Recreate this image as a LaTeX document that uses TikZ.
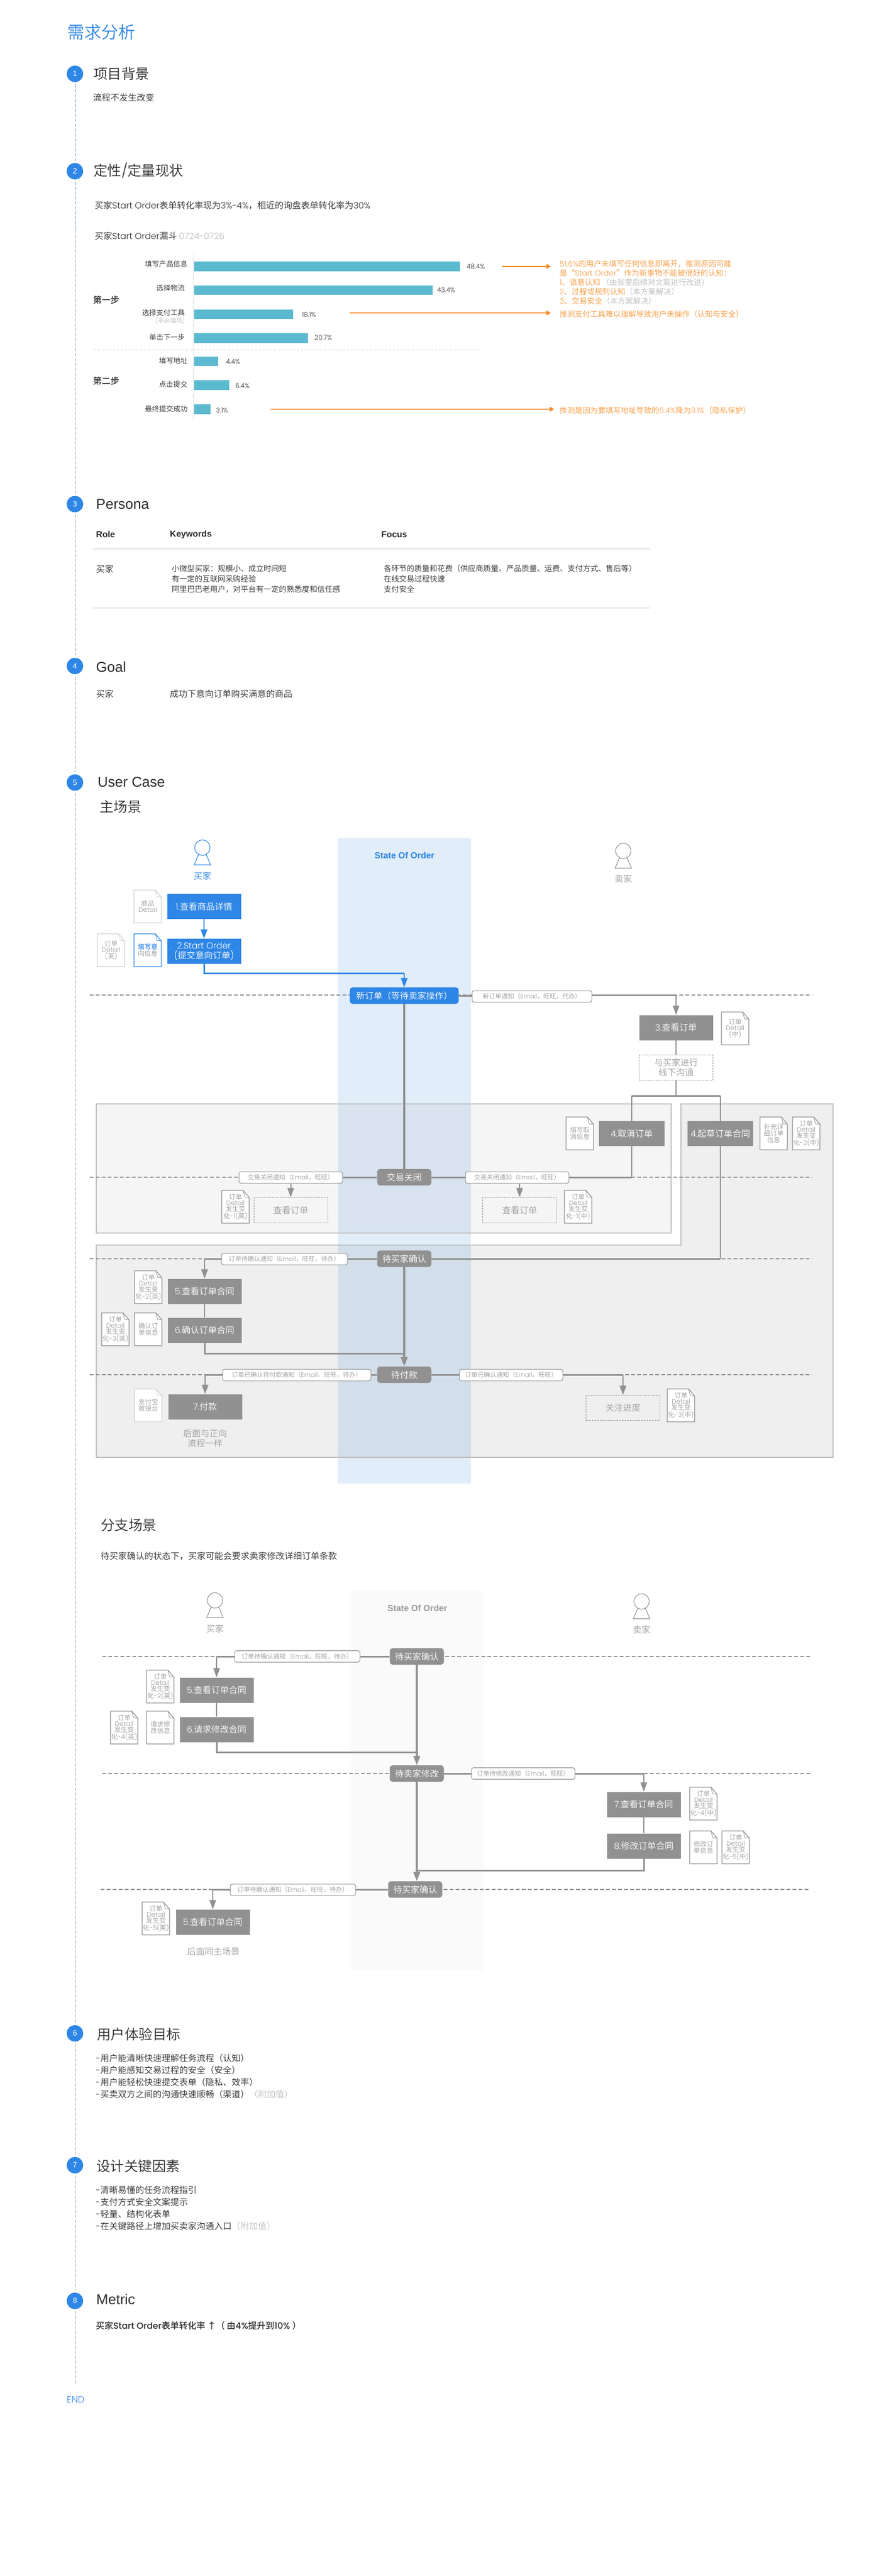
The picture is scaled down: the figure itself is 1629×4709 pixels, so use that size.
\documentclass[tikz,border=0pt]{standalone}
\usepackage{fontspec}
\usetikzlibrary{arrows.meta,shapes.geometric}
\setmainfont{Poppins}[UprightFont=* Light,BoldFont=* Medium]
\newfontfamily\cjkf{Noto Sans CJK SC}[UprightFont=* DemiLight,BoldFont=* Medium]
\newfontfamily\arialf{Liberation Sans}
\newcommand{\latf}{\normalfont}
\renewcommand{\latf}{\rmfamily}
\newcommand{\arl}{\let\latf\arialf\arialf}
\newXeTeXintercharclass\cjkcls
\newcount\ccc
\ccc="2E80 \loop \XeTeXcharclass\ccc=\cjkcls \advance\ccc 1 \ifnum\ccc<"A000 \repeat
\ccc="FF00 \loop \XeTeXcharclass\ccc=\cjkcls \advance\ccc 1 \ifnum\ccc<"FFF0 \repeat
\XeTeXcharclass"2018=\cjkcls \XeTeXcharclass"2019=\cjkcls
\XeTeXcharclass"201C=\cjkcls \XeTeXcharclass"201D=\cjkcls
\XeTeXcharclass"2191=\cjkcls
\XeTeXinterchartoks 0 \cjkcls={\cjkf}
\XeTeXinterchartoks \cjkcls 0={\latf}
\XeTeXinterchartoks 4095 \cjkcls={\cjkf}
\XeTeXinterchartoks 4095 0={\latf}
\XeTeXinterchartokenstate=1
\definecolor{blueA}{HTML}{2E86E6}
\definecolor{colA}{HTML}{E1EDF9}
\definecolor{colB}{HTML}{FAFAFA}
\definecolor{grayA}{HTML}{919191}
\definecolor{textA}{HTML}{2B2B2B}
\definecolor{textB}{HTML}{9A9A9A}
\definecolor{textC}{HTML}{BBBBBB}
\definecolor{lineA}{HTML}{CCCCCC}
\definecolor{barA}{HTML}{5BBAD0}
\definecolor{orgA}{HTML}{F58B22}
\definecolor{orgB}{HTML}{F79A3E}
\definecolor{docA}{HTML}{8C8C8C}
\definecolor{docB}{HTML}{D0D0D0}
\newcommand{\fz}[2]{\fontsize{#1}{#2}\selectfont}
\tikzset{
  txt/.style={inner sep=0pt,anchor=west,text=textA,font=\fz{16}{19}},
  htitle/.style={txt,font=\fz{25.5}{30}},
  hlatin/.style={txt,font=\fz{26}{30}\arl},
  hbold/.style={txt,font=\fz{16}{19}\arl\bfseries},
  numc/.style={circle,fill=blueA,text=white,minimum size=30pt,inner sep=0pt,font=\fz{14}{16}\arl},
  timeline/.style={line width=1pt,dash pattern=on 6pt off 3pt,shorten <=4pt,shorten >=4pt},
  barl/.style={txt,anchor=east,font=\fz{13}{15}},
  barv/.style={txt,font=\fz{12}{14}},
  barr/.style={fill=barA},
  orgarrow/.style={orgA,line width=1.5pt,-{Triangle[length=8pt,width=9pt]}},
  orgtext/.style={txt,text=orgB,font=\fz{14}{17}},
  boxblue/.style={fill=blueA,text=white,minimum width=135pt,minimum height=46pt,inner sep=0pt,align=center,font=\fz{16}{18}},
  boxgray/.style={fill=grayA,text=white,minimum width=135pt,minimum height=46pt,inner sep=0pt,align=center,font=\fz{16}{18}},
  boxdash/.style={draw=grayA,dashed,line width=1pt,dash pattern=on 3pt off 2pt,text=textB,minimum width=135pt,minimum height=46pt,inner sep=0pt,align=center,font=\fz{16}{18}},
  statebox/.style={fill=grayA,text=white,rounded corners=5pt,minimum width=99pt,minimum height=30pt,inner sep=0pt,font=\fz{16}{18}},
  notify/.style={draw=docA,fill=white,rounded corners=3.5pt,line width=1pt,text=textB,minimum height=21pt,inner sep=0pt,font=\fz{11.5}{13}},
  docbox/.style={inner sep=0pt,align=center,text=textB,minimum width=50pt,minimum height=60pt,font=\fz{12}{11}},
  conn/.style={grayA,line width=2pt},
  connthick/.style={grayA,line width=3pt},
  stateline/.style={grayA,line width=3.5pt},
  tiparrow/.style={-{Triangle[length=17pt,width=12pt]}},
  dashrow/.style={grayA,line width=1.2pt,dash pattern=on 7pt off 4pt},
  person/.style={line width=1.1pt,fill=white},
}
\newcommand{\docnode}[5][docA]{%
  \draw[draw=#1,line width=1.2pt,fill=white] (#3,#4) -- ++(39,0) -- ++(11,13) -- ++(0,47) -- ++(-50,0) -- cycle;
  \draw[draw=#1,line width=.8pt] (#3+39,#4) -- ++(3,12) -- ++(8,1);
  \node[docbox] (#2) at (#3+25,#4+30) {#5};
}
\newcommand{\personic}[3]{%
  \draw[person,draw=#3] (#1-7,#2+26) -- (#1-15,#2+45) -- (#1+15,#2+45) -- (#1+7,#2+26) -- cycle;
  \draw[person,draw=#3] (#1,#2+13.5) circle[radius=14pt];
}
\begin{document}
\begin{tikzpicture}[x=1pt,y=-1pt]
\useasboundingbox (0,0) rectangle (1629,4709);
\fill[white] (0,0) rectangle (1629,4709);

% ---------- header ----------
\node[txt,text=blueA,font=\fz{31}{36}] (title) at (123,59) {需求分析};
\node[numc] (c1) at (137,135) {1};
\node[numc] (c2) at (137,313) {2};
\node[numc] (c3) at (137,921.5) {3};
\node[numc] (c4) at (137,1217.5) {4};
\node[numc] (c5) at (137,1430.5) {5};
\node[numc] (c6) at (137,3717) {6};
\node[numc] (c7) at (137,3958) {7};
\node[numc] (c8) at (137,4206) {8};
\node[txt,text=blueA,font=\fz{17}{20}] (endn) at (122,4386) {END};
\coordinate (tlsplit) at (137,420);
\coordinate (tlend) at (137,4359);
\draw[timeline,draw=blueA] (c1) -- (c2);
\draw[timeline,draw=blueA,shorten >=0pt] (c2) -- (tlsplit);
\draw[timeline,draw=docA,shorten <=0pt] (tlsplit) -- (c3);
\draw[timeline,draw=docA] (c3) -- (c4);
\draw[timeline,draw=docA] (c4) -- (c5);
\draw[timeline,draw=docA] (c5) -- (c6);
\draw[timeline,draw=docA] (c6) -- (c7);
\draw[timeline,draw=docA] (c7) -- (c8);
\draw[timeline,draw=docA,shorten >=0pt] (c8) -- (tlend);

\node[htitle] (h1) at (171,135) {项目背景};
\node[txt] (b1) at (170,178) {流程不发生改变};
\node[htitle] (h2) at (171,312) {定性/定量现状};
\node[txt] (b2) at (173,376) {买家Start Order表单转化率现为3\%-4\%，相近的询盘表单转化率为30\%};

% ---------- chart ----------
\node[txt] (funnel) at (173,431) {买家Start Order漏斗 \textcolor{textC}{0724-0726}};
\draw[line width=1.2pt,draw=black!10] (353.5,463) -- (353.5,768);
\foreach \yy in {509,552,595,639,682,725}{\draw[line width=1.2pt,draw=black!10] (351,\yy) -- (354,\yy);}
\fill[barr] (355,478) rectangle (841,496);
\fill[barr] (355,522) rectangle (791,539);
\fill[barr] (355,566) rectangle (536,583);
\fill[barr] (355,609) rectangle (563,627);
\fill[barr] (355,652) rectangle (399,669);
\fill[barr] (355,695) rectangle (419,713);
\fill[barr] (355,739) rectangle (385,757);
\node[barv] (v1) at (853,487) {48.4\%};
\node[barv] (v2) at (799,530) {43.4\%};
\node[barv] (v3) at (552,575) {18.1\%};
\node[barv] (v4) at (575,617) {20.7\%};
\node[barv] (v5) at (413,661) {4.4\%};
\node[barv] (v6) at (430,705) {6.4\%};
\node[barv] (v7) at (395,750) {3.1\%};
\node[barl] (l1) at (343,483) {填写产品信息};
\node[barl] (l2) at (338,527) {选择物流};
\node[barl] (l3) at (338,572) {选择支付工具};
\node[barl,text=textC,font=\fz{11}{13}] (l3b) at (338,586) {(非必填项)};
\node[barl] (l4) at (338,617) {单击下一步};
\node[barl] (l5) at (343,660) {填写地址};
\node[barl] (l6) at (343,703) {点击提交};
\node[barl] (l7) at (343,748) {最终提交成功};
\node[txt,font=\fz{16}{19}\bfseries] (s1) at (170,548) {第一步};
\node[txt,font=\fz{16}{19}\bfseries] (s2) at (170,696) {第二步};
\coordinate (da) at (172,639); \coordinate (db) at (874,639);
\draw[lineA,line width=1pt,dash pattern=on 4pt off 3pt] (da) -- (db);
\node[orgtext,anchor=north west,align=left] (o1) at (1023,475) {51.6\%的用户未填写任何信息即离开，推测原因可能\\
是“Start Order”作为新事物不能被很好的认知：\\
1、语意认知 \textcolor{textC}{（由张雯后续对文案进行改进）}\\
2、过程或规则认知\textcolor{textC}{（本方案解决）}\\
3、交易安全\textcolor{textC}{（本方案解决）}};
\node[orgtext] (o2) at (1023,574) {推测支付工具难以理解导致用户未操作（认知与安全）};
\node[orgtext] (o3) at (1023,750) {推测是因为要填写地址导致的6.4\%降为3.1\%（隐私保护）};
\coordinate (oa1) at (918,487); \coordinate (ob1) at (1007,487);
\coordinate (oa2) at (639,572); \coordinate (ob2) at (1007,572);
\coordinate (oa3) at (495,748); \coordinate (ob3) at (1013,748);
\draw[orgarrow] (oa1) -- (ob1);
\draw[orgarrow] (oa2) -- (ob2);
\draw[orgarrow] (oa3) -- (ob3);

% ---------- persona ----------
\node[hlatin] (h3) at (175.5,922) {Persona};
\node[hbold] (r1) at (175.5,977) {Role};
\node[hbold] (r2) at (310.5,977) {Keywords};
\node[hbold] (r3) at (697,977) {Focus};
\coordinate (ta) at (170,1003.5); \coordinate (tb) at (1188,1003.5);
\coordinate (tc) at (170,1111); \coordinate (td) at (1188,1111);
\draw[lineA,line width=1pt] (ta) -- (tb);
\draw[lineA,line width=1pt] (tc) -- (td);
\node[txt] (p1) at (175.5,1040.5) {买家};
\node[txt,anchor=north west,align=left,font=\fz{14}{19}] (p2) at (314,1032) {小微型买家：规模小、成立时间短\\有一定的互联网采购经验\\阿里巴巴老用户，对平台有一定的熟悉度和信任感};
\node[txt,anchor=north west,align=left,font=\fz{14}{19}] (p3) at (701.5,1032) {各环节的质量和花费（供应商质量、产品质量、运费、支付方式、售后等）\\在线交易过程快速\\支付安全};

% ---------- goal ----------
\node[hlatin] (h4) at (175.5,1219) {Goal};
\node[txt] (g1) at (175.5,1268) {买家};
\node[txt] (g2) at (310.5,1268) {成功下意向订单购买满意的商品};

% ---------- user case ----------
\node[hlatin] (h5) at (178.5,1430) {User Case};
\node[htitle] (sc1) at (182,1475) {主场景};

% ---- main scene backgrounds ----
\fill[colA] (618,1532) rectangle (861,2712);
\draw[draw=black!25,line width=1.1pt,fill=black,fill opacity=.04] (176,2018) rectangle (1227,2254);
\draw[draw=black!25,line width=1.1pt,fill=black,fill opacity=.0625] (176,2276) -- (1245,2276) -- (1245,2018) -- (1523,2018) -- (1523,2664) -- (176,2664) -- cycle;
\node[txt,anchor=center,text=blueA,font=\fz{16}{19}\arl\bfseries] (so1) at (739.5,1564) {State Of Order};
\personic{370}{1536}{blueA}
\node[txt,anchor=center,text=blueA] (bu1) at (370,1601) {买家};
\personic{1139.5}{1542}{grayA}
\node[txt,anchor=center,text=textB] (se1) at (1139.5,1606) {卖家};

% rows
\foreach \yy in {1819,2152,2301,2513}{\draw[dashrow] (164,\yy) -- (1485,\yy);}

% nodes
\node[boxblue] (bx1) at (373,1657) {1.查看商品详情};
\node[boxblue] (bx2) at (373,1739) {2.Start Order\\(提交意向订单)};
\node[statebox,fill=blueA,minimum width=199pt] (newo) at (739,1820) {新订单（等待卖家操作）};
\node[notify,minimum width=219pt] (n1) at (972.5,1821.5) {新订单通知（Email，旺旺，代办）};
\node[boxgray] (bx3) at (1236,1878.5) {3.查看订单};
\node[boxdash] (off) at (1236,1951.5) {与买家进行\\线下沟通};
\node[boxgray,minimum width=120pt] (cancel) at (1155,2072) {4.取消订单};
\node[boxgray,minimum width=120pt] (draft) at (1317,2072) {4.起草订单合同};
\node[statebox] (closed) at (739,2152) {交易关闭};
\node[notify,minimum width=189pt] (n2) at (531.5,2152.5) {交易关闭通知（Email，旺旺）};
\node[notify,minimum width=189pt] (n3) at (945.5,2152.5) {交易关闭通知（Email，旺旺）};
\node[boxdash] (look1) at (531.5,2212) {查看订单};
\node[boxdash] (look2) at (950,2212) {查看订单};
\node[statebox] (conf) at (739,2301) {待买家确认};
\node[notify,minimum width=230pt] (n4) at (520,2301.5) {订单待确认通知（Email，旺旺，待办）};
\node[boxgray] (bx5) at (374,2360.5) {5.查看订单合同};
\node[boxgray] (bx6) at (374,2431.5) {6.确认订单合同};
\node[statebox] (pay) at (739,2513) {待付款};
\node[notify,minimum width=271pt] (n5) at (542.5,2513.5) {订单已确认待付款通知（Email，旺旺，待办）};
\node[notify,minimum width=189pt] (n6) at (934.5,2513.5) {订单已确认通知（Email，旺旺）};
\node[boxgray] (bx7) at (375,2571.5) {7.付款};
\node[boxdash] (watch) at (1139,2573.5) {关注进度};
\node[txt,anchor=center,text=textB,align=center,font=\fz{16}{18}] (fw1) at (375,2629) {后面与正向\\流程一样};

% docs
\docnode[docB]{d1}{245}{1627}{商品\\Detail}
\docnode[docB]{d2}{178}{1707}{订单\\Detail\\(英)}
\docnode[blueA]{d3}{245}{1707}{\color{blueA}\bfseries 填写意\\向信息}
\docnode{d4}{1319}{1850}{订单\\Detail\\(中)}
\docnode{d5}{1035}{2042}{填写取\\消信息}
\docnode{d6}{1389.5}{2042}{补充详\\细订单\\信息}
\docnode{d7}{1449}{2042}{订单\\Detail\\发生变\\化-2(中)}
\docnode{d8}{405.5}{2176}{订单\\Detail\\发生变\\化-1(英)}
\docnode{d9}{1032}{2176}{订单\\Detail\\发生变\\化-1(中)}
\docnode{d10}{246}{2323}{订单\\Detail\\发生变\\化-2(英)}
\docnode{d11}{246}{2400}{确认订\\单信息}
\docnode{d12}{186}{2400}{订单\\Detail\\发生变\\化-3(英)}
\docnode[docB]{d13}{246}{2539}{支付宝\\收银台}
\docnode{d14}{1220}{2539}{订单\\Detail\\发生变\\化-3(中)}

% connectors main scene
\draw[blueA,line width=2.5pt,tiparrow] (bx1) -- (bx2);
\coordinate (j1) at (373,1779);
\coordinate (j1b) at (newo.north |- j1);
\draw[blueA,line width=3pt] (bx2.south) -- (j1) -- (j1b);
\draw[blueA,line width=2.5pt,tiparrow] (j1b) -- (newo.north);
\draw[connthick] (newo.east) -- (n1.west |- newo.east);
\coordinate (j2) at (1236,1819);
\draw[connthick] (n1.east |- j2) -- (j2);
\draw[conn,tiparrow] (j2) -- (bx3.north);
\draw[conn] (bx3) -- (off);
\coordinate (j3) at (1236,2003);
\coordinate (j3a) at (1155,2003);
\coordinate (j3b) at (1317,2003);
\draw[conn] (off) -- (j3);
\draw[connthick] (j3a) -- (j3b);
\draw[conn] (j3a) -- (cancel.north);
\draw[conn] (j3b) -- (draft.north);
\draw[stateline] (newo) -- (closed);
\draw[connthick] (closed.west) -- (n2.east |- closed.west);
\draw[connthick] (closed.east) -- (n3.west |- closed.east);
\coordinate (j4) at (1155,2152);
\draw[connthick] (n3.east |- j4) -- (j4);
\draw[conn] (cancel.south) -- (j4);
\draw[conn,tiparrow] (n2.south) -- (look1.north);
\draw[conn,tiparrow] (look2.north |- n3.south) -- (look2.north);
\coordinate (j5) at (1317,2301);
\draw[conn] (draft.south) -- (j5);
\draw[connthick] (conf.east) -- (j5);
\draw[connthick] (conf.west) -- (n4.east |- conf.west);
\coordinate (j6) at (bx5.north |- conf.west);
\draw[connthick] (n4.west |- j6) -- (j6);
\draw[conn,tiparrow] (j6) -- (bx5.north);
\draw[conn] (bx5) -- (bx6);
\coordinate (j7) at (739,2474);
\draw[connthick] (bx6.south) |- (j7);
\draw[stateline,tiparrow] (conf.south) -- (pay.north);
\draw[connthick] (pay.west) -- (n5.east |- pay.west);
\draw[connthick] (pay.east) -- (n6.west |- pay.east);
\coordinate (j8) at (bx7.north |- pay.west);
\draw[connthick] (n5.west |- j8) -- (j8);
\draw[conn,tiparrow] (j8) -- (bx7.north);
\coordinate (j9) at (watch.north |- pay.east);
\draw[connthick] (n6.east |- j9) -- (j9);
\draw[conn,tiparrow] (j9) -- (watch.north);

% ---------- branch scene ----------
\node[htitle] (sc2) at (184,2788) {分支场景};
\node[txt] (sc2b) at (184,2845) {待买家确认的状态下，买家可能会要求卖家修改详细订单条款};
\fill[colB] (642,2908) rectangle (884,3602);
\node[txt,anchor=center,text=textB,font=\fz{16}{19}\arl\bfseries] (so2) at (763,2940) {State Of Order};
\personic{393}{2912}{grayA}
\node[txt,anchor=center,text=textB] (bu2) at (393,2977) {买家};
\personic{1173}{2914}{grayA}
\node[txt,anchor=center,text=textB] (se2) at (1173,2979) {卖家};
\draw[dashrow] (187,3028) -- (1483,3028);
\draw[dashrow] (187,3242) -- (1483,3242);
\draw[dashrow] (184,3454) -- (1480,3454);

\node[statebox] (conf2) at (762,3028) {待买家确认};
\node[notify,minimum width=229pt] (m1) at (543.5,3028) {订单待确认通知（Email，旺旺，待办）};
\node[boxgray] (cx5) at (396,3089.5) {5.查看订单合同};
\node[boxgray] (cx6) at (396,3161.5) {6.请求修改合同};
\node[statebox] (edit) at (762,3242) {待卖家修改};
\node[notify,minimum width=189pt] (m2) at (956.5,3242) {订单待修改通知（Email，旺旺）};
\node[boxgray] (cx7) at (1177,3298.5) {7.查看订单合同};
\node[boxgray] (cx8) at (1177,3374.5) {8.修改订单合同};
\node[statebox] (conf3) at (759,3454) {待买家确认};
\node[notify,minimum width=229pt] (m3) at (535.5,3454.5) {订单待确认通知（Email，旺旺，待办）};
\node[boxgray] (cx9) at (389,3513.5) {5.查看订单合同};
\node[txt,anchor=center,text=textB] (fw2) at (390,3567) {后面同主场景};

\docnode{e1}{268}{3053}{订单\\Detail\\发生变\\化-2(英)}
\docnode{e2}{268}{3128}{请求修\\改信息}
\docnode{e3}{202}{3128}{订单\\Detail\\发生变\\化-4(英)}
\docnode{e4}{1261}{3267}{订单\\Detail\\发生变\\化-4(中)}
\docnode{e5}{1261}{3347}{修改订\\单信息}
\docnode{e6}{1320}{3347}{订单\\Detail\\发生变\\化-5(中)}
\docnode{e7}{260}{3477}{订单\\Detail\\发生变\\化-5(英)}

\draw[connthick] (conf2.west) -- (m1.east |- conf2.west);
\coordinate (k1) at (cx5.north |- conf2.west);
\draw[connthick] (m1.west |- k1) -- (k1);
\draw[conn,tiparrow] (k1) -- (cx5.north);
\draw[conn] (cx5) -- (cx6);
\coordinate (k2) at (conf2.south |- 0,3203);
\draw[connthick] (cx6.south) |- (k2);
\draw[stateline,tiparrow] (conf2.south) -- (edit.north);
\draw[connthick] (edit.east) -- (m2.west |- edit.east);
\coordinate (k3) at (cx7.north |- edit.east);
\draw[connthick] (m2.east |- k3) -- (k3);
\draw[conn,tiparrow] (k3) -- (cx7.north);
\draw[conn] (cx7) -- (cx8);
\coordinate (k4) at (edit.south |- 0,3419);
\draw[connthick] (cx8.south) |- (k4);
\draw[stateline,tiparrow] (edit.south) -- (edit.south |- conf3.north);
\draw[connthick] (conf3.west) -- (m3.east |- conf3.west);
\coordinate (k5) at (cx9.north |- conf3.west);
\draw[connthick] (m3.west |- k5) -- (k5);
\draw[conn,tiparrow] (k5) -- (cx9.north);

% ---------- sections 6-8 ----------
\node[htitle] (h6) at (177,3719) {用户体验目标};
\node[txt,anchor=north west,align=left,font=\fz{16}{22}] (u1) at (175,3755) {-用户能清晰快速理解任务流程（认知）\\-用户能感知交易过程的安全（安全）\\-用户能轻松快速提交表单（隐私、效率）\\-买卖双方之间的沟通快速顺畅（渠道）\textcolor{textC}{（附加值）}};
\node[htitle] (h7) at (176,3960) {设计关键因素};
\node[txt,anchor=north west,align=left,font=\fz{16}{22}] (u2) at (175,3996) {-清晰易懂的任务流程指引\\-支付方式安全文案提示\\-轻量、结构化表单\\-在关键路径上增加买卖家沟通入口\textcolor{textC}{（附加值）}};
\node[hlatin] (h8) at (176,4203) {Metric};
\node[txt,font=\fz{16}{19}\bfseries] (u3) at (175,4251) {买家Start Order表单转化率 ↑（ 由4\%提升到10\% ）};
\end{tikzpicture}
\end{document}
